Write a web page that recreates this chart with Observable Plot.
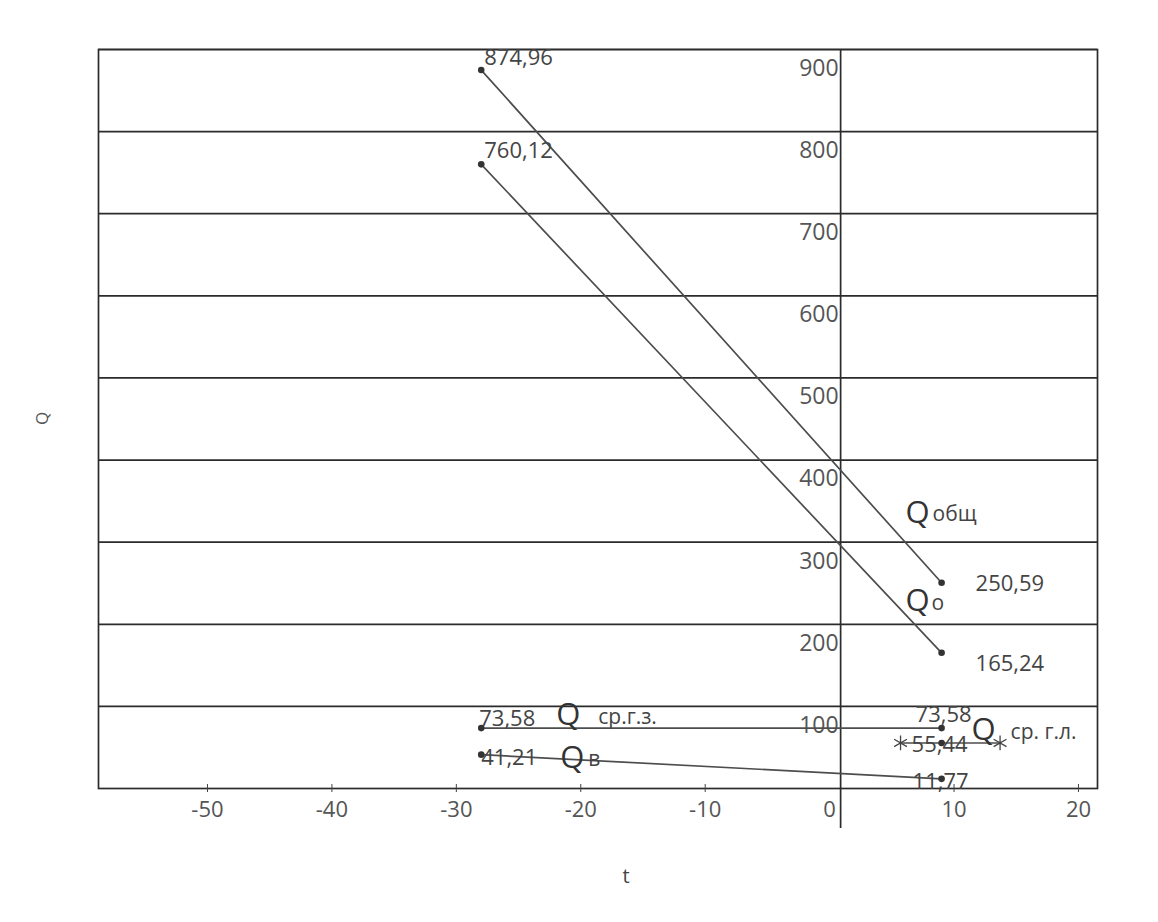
<!DOCTYPE html>
<html>
<head>
<meta charset="utf-8">
<script src="https://cdn.jsdelivr.net/npm/d3@7"></script>
<script src="https://cdn.jsdelivr.net/npm/@observablehq/plot@0.6"></script>
<style>
  html, body { margin: 0; padding: 0; background: #fff; }
  svg { display: block; }
</style>
</head>
<body>
<div id="chart"></div>
<script>
// ---- data ----
const tPoints = [-28, 9];                 // outdoor temperature, °C
const qTotal = [874.96, 250.59];          // Qобщ
const qHeat = [760.12, 165.24];           // Qо
const qHwWinter = [73.58, 73.58];         // Q ср.г.з.
const qVent = [41.21, 11.77];             // Qв
const qHwSummer = [55.44];                // Q ср.г.л.
const tSummer = [9];
const tSummerRange = [5.7, 13.7];
const xTicks = [-50, -40, -30, -20, -10, 0, 10, 20];
const yTicks = [100, 200, 300, 400, 500, 600, 700, 800, 900];

const fmt = v => v.toFixed(2).replace(".", ",");

const series = [
  {name: "Qобщ", values: qTotal},
  {name: "Qо", values: qHeat},
  {name: "Q ср.г.з.", values: qHwWinter},
  {name: "Qв", values: qVent}
];
const lineData = series.flatMap(s => tPoints.map((t, i) => ({series: s.name, t, q: s.values[i]})));

// value labels (offsets are styling only)
const valueLabels = [
  {t: tPoints[0], q: qTotal[0], dx: 3, dy: -12, anchor: "start"},
  {t: tPoints[0], q: qHeat[0], dx: 3, dy: -13, anchor: "start"},
  {t: tPoints[1], q: qTotal[1], dx: 34, dy: 1, anchor: "start"},
  {t: tPoints[1], q: qHeat[1], dx: 34, dy: 11, anchor: "start"},
  {t: tPoints[0], q: qHwWinter[0], dx: -2, dy: -9, anchor: "start"},
  {t: tPoints[0], q: qVent[0], dx: 0, dy: 3, anchor: "start"},
  {t: tPoints[1], q: qHwWinter[1], dx: 2, dy: -13, anchor: "middle"},
  {t: tSummer[0], q: qHwSummer[0], dx: -2, dy: 2, anchor: "middle"},
  {t: tPoints[1], q: qVent[1], dx: -1, dy: 3, anchor: "middle"}
];

// series name labels: big "Q" + smaller suffix
const nameLabels = [
  {t: tPoints[1], q: qTotal[1], sub: "общ", dx: -36, dy: -70, subDx: 27},
  {t: tPoints[1], q: qHeat[1], sub: "о", dx: -36, dy: -52, subDx: 26},
  {t: tPoints[0], q: qHwWinter[0], sub: "ср.г.з.", dx: 75, dy: -13, subDx: 42},
  {t: tPoints[0], q: qVent[0], sub: "в", dx: 79, dy: 3, subDx: 28},
  {t: tSummer[0], q: qHwSummer[0], sub: "ср. г.л.", dx: 30, dy: -13, subDx: 39}
];

const errBar = [{t1: tSummerRange[0], t2: tSummerRange[1], q: qHwSummer[0]}];
const errEnds = tSummerRange.map(t => ({t, q: qHwSummer[0]}));

const ink = "#3a3a3a";
const lineInk = "#4d4d4d";
const font = "Open Sans";

const valueMarks = valueLabels.map(d =>
  Plot.text([d], {x: "t", y: "q", text: e => fmt(e.q), dx: d.dx, dy: d.dy, textAnchor: d.anchor, fontSize: 22, fill: "#444"})
);
const nameMarks = nameLabels.flatMap(d => [
  Plot.text([d], {x: "t", y: "q", text: () => "Q", dx: d.dx, dy: d.dy, textAnchor: "start", fontSize: 31, fill: "#333"}),
  Plot.text([d], {x: "t", y: "q", text: "sub", dx: d.dx + d.subDx, dy: d.dy + 2, textAnchor: "start", fontSize: 21, fill: "#444"})
]);

const plot = Plot.plot({
  width: 1158,
  height: 922,
  marginTop: 49,
  marginBottom: 134,
  marginLeft: 98,
  marginRight: 61,
  style: {fontFamily: font, background: "#fff", color: ink},
  x: {domain: [-58.76, 21.53], label: null},
  y: {domain: [0, 900], label: null, axis: null},
  marks: [
    Plot.ruleY(yTicks, {stroke: "#2b2b2b", strokeWidth: 1.7}),
    Plot.frame({stroke: "#2b2b2b", strokeWidth: 1.7}),
    Plot.ruleX([0], {stroke: "#2b2b2b", strokeWidth: 1.7, insetBottom: -40, dx: 11}),
    Plot.ruleX(xTicks.filter(d => d !== 0), {y1: 0, y2: 0, insetTop: -4, insetBottom: -4, stroke: "#444", strokeWidth: 1}),
    Plot.axisX({ticks: xTicks, tickSize: 0, tickPadding: 13, fontSize: 22, fill: "#555", tickFormat: d => String(d), label: null}),
    Plot.text(yTicks, {x: 0, y: d => d, text: d => String(d), textAnchor: "end", dx: 9, dy: 19, fontSize: 23, fill: "#555"}),
    // lines
    Plot.line(lineData, {x: "t", y: "q", z: "series", stroke: lineInk, strokeWidth: 1.7}),
    Plot.dot(lineData, {x: "t", y: "q", r: 3.3, fill: "#333", stroke: "none"}),
    // summer hot water with range
    Plot.ruleY(errBar, {x1: "t1", x2: "t2", y: "q", stroke: lineInk, strokeWidth: 1.6}),
    Plot.dot(errEnds, {x: "t", y: "q", symbol: "asterisk", r: 7, stroke: "#444", strokeWidth: 1.3}),
    Plot.dot(tSummer.map((t, i) => ({t, q: qHwSummer[i]})), {x: "t", y: "q", r: 3.3, fill: "#333"}),
    ...valueMarks,
    ...nameMarks,
    // axis titles
    Plot.text(["Q"], {frameAnchor: "left", rotate: -90, dx: -56, dy: 6, fontSize: 17, fill: "#555"}),
    Plot.text(["t"], {frameAnchor: "bottom", dx: 28, dy: 94, fontSize: 20, fill: "#444"})
  ]
});

document.getElementById("chart").appendChild(plot);
</script>
</body>
</html>
